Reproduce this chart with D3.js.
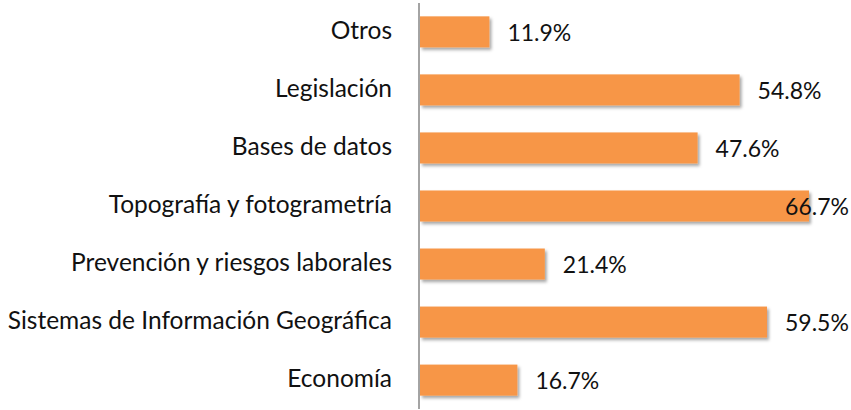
<!DOCTYPE html>
<html>
<head>
<meta charset="utf-8">
<script src="https://cdn.jsdelivr.net/npm/d3@7"></script>
<style>
  html, body { margin: 0; padding: 0; background: #fff; }
  svg { display: block; font-family: Lato, 'Open Sans', sans-serif; }
</style>
</head>
<body>
<div id="chart"></div>
<script>
const categories = ['Otros', 'Legislación', 'Bases de datos', 'Topografía y fotogrametría',
    'Prevención y riesgos laborales', 'Sistemas de Información Geográfica', 'Economía']
const values = [11.9, 54.8, 47.6, 66.7, 21.4, 59.5, 16.7]

const width = 851, height = 410
const axisX = 419
const plotRight = 849

const svg = d3.select('#chart').append('svg')
    .attr('width', width).attr('height', height)

const defs = svg.append('defs')
const f = defs.append('filter').attr('id', 'shadow')
    .attr('x', '-5%').attr('y', '-20%').attr('width', '115%').attr('height', '160%')
f.append('feDropShadow')
    .attr('dx', 2).attr('dy', 2.5).attr('stdDeviation', 1.6)
    .attr('flood-color', '#000').attr('flood-opacity', 0.35)

const x = d3.scaleLinear().domain([0, 66.7]).range([axisX + 1, 809])
const y = d3.scaleBand().domain(categories).range([3, 409]).paddingInner(0.465).paddingOuter(0.23)

// bars
svg.selectAll('.bar')
    .data(categories).enter()
    .append('rect')
    .attr('x', x(0))
    .attr('y', d => y(d))
    .attr('width', (d, i) => x(values[i]) - x(0))
    .attr('height', y.bandwidth())
    .attr('fill', '#F79646')
    .attr('filter', 'url(#shadow)')

// axis line
svg.append('line')
    .attr('x1', axisX).attr('x2', axisX)
    .attr('y1', 3).attr('y2', 409)
    .attr('stroke', '#868686').attr('stroke-width', 1.5)

// category labels
svg.selectAll('.cat')
    .data(categories).enter()
    .append('text')
    .attr('x', axisX - 27)
    .attr('y', d => y(d) + y.bandwidth() / 2 + 1)
    .attr('text-anchor', 'end')
    .attr('dominant-baseline', 'middle')
    .attr('fill', '#111')
    .attr('font-size', '24.5px')
    .text(d => d)

// value labels
svg.selectAll('.val')
    .data(categories).enter()
    .append('text')
    .attr('y', d => y(d) + y.bandwidth() / 2 + 3)
    .attr('dominant-baseline', 'middle')
    .attr('fill', '#111')
    .attr('font-size', '23px')
    .text((d, i) => values[i].toFixed(1) + '%')
    .each(function (d, i) {
        const w = this.getComputedTextLength()
        const px = Math.min(x(values[i]) + 18, plotRight - w)
        d3.select(this).attr('x', px)
    })
</script>
</body>
</html>
